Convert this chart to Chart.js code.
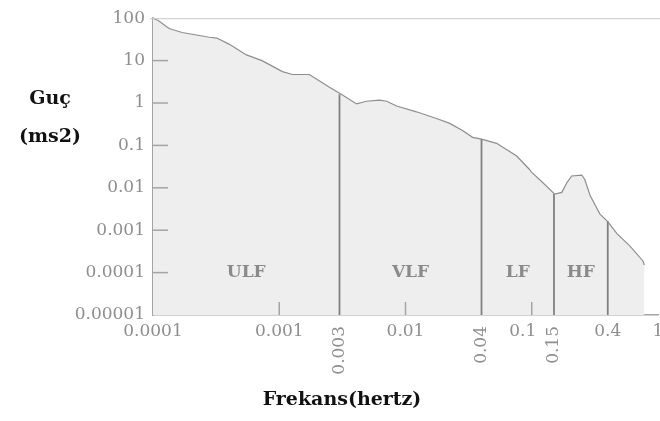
<!DOCTYPE html>
<html>
<head>
<meta charset="utf-8">
<script src="https://cdn.jsdelivr.net/npm/chart.js@4/dist/chart.umd.min.js"></script>
<style>
html,body{margin:0;padding:0;background:#fff;}
canvas{display:block;}
</style>
</head>
<body>
<canvas id="c" width="660" height="421"></canvas>
<script>
// ---- data ----
const freqHz = [0.0001, 0.00011, 0.000134, 0.00017, 0.00028, 0.00032, 0.0004, 0.00055, 0.00073, 0.00106, 0.00127, 0.00173, 0.0025, 0.0031, 0.0041, 0.0049, 0.0062, 0.0071, 0.0085, 0.0122, 0.0176, 0.0224, 0.0283, 0.034, 0.04, 0.0527, 0.076, 0.096, 0.1, 0.122, 0.152, 0.173, 0.19, 0.207, 0.249, 0.263, 0.29, 0.347, 0.4, 0.473, 0.6, 0.76, 0.78];
const powerMs2 = [100, 88, 57, 46, 35.5, 34, 24.5, 13.6, 10, 5.5, 4.7, 4.7, 2.35, 1.6, 0.95, 1.1, 1.17, 1.1, 0.85, 0.62, 0.43, 0.33, 0.225, 0.155, 0.14, 0.112, 0.056, 0.027, 0.023, 0.0133, 0.0071, 0.0078, 0.0133, 0.019, 0.020, 0.0157, 0.0066, 0.0024, 0.0016, 0.00083, 0.00042, 0.000188, 0.00015];

const bandEdges = [0.003, 0.04, 0.15, 0.4];
const bandEdgeTops = [1.6, 0.14, 0.0071, 0.0016];
const bandNames = ["ULF", "VLF", "LF", "HF"];
const bandBounds = [0.0001, 0.003, 0.04, 0.15, 0.4];
const bandLabelLevel = 0.0001;

const yTickValues = [100, 10, 1, 0.1, 0.01, 0.001, 0.0001, 0.00001];
const yTickLabels = ["100", "10", "1", "0.1", "0.01", "0.001", "0.0001", "0.00001"];

const xFlatTickValues = [0.0001, 0.001, 0.01, 0.1, 0.4, 1];
const xFlatTickLabels = ["0.0001", "0.001", "0.01", "0.1", "0.4", "1"];
const xRotTickValues = [0.003, 0.04, 0.15];
const xRotTickLabels = ["0.003", "0.04", "0.15"];
const xInnerTickValues = [0.001, 0.01, 0.1];

const yTitleLines = ["Guç", "(ms2)"];
const xTitle = "Frekans(hertz)";

const GRAY_TXT = '#8e8e8e';
const AXIS = '#a4a4a4';

const datasets = [{
  label: 'power',
  data: freqHz.map((f, i) => ({x: f, y: powerMs2[i]})),
  borderColor: '#8e8e8e',
  borderWidth: 1.2,
  backgroundColor: '#eeeeee',
  fill: 'start',
  pointRadius: 0,
  tension: 0,
  order: 2
}];
bandEdges.forEach((e, i) => {
  datasets.push({
    label: 'edge' + i,
    data: [{x: e, y: 0.00001}, {x: e, y: bandEdgeTops[i]}],
    borderColor: '#808080',
    borderWidth: 1.8,
    fill: false,
    pointRadius: 0,
    order: 1
  });
});

const decor = {
  id: 'decor',
  afterDatasetsDraw(chart) {
    const ctx = chart.ctx;
    const xs = chart.scales.x, ys = chart.scales.y;
    const a = chart.chartArea;
    ctx.save();
    // top border
    ctx.strokeStyle = '#c8c8c8';
    ctx.lineWidth = 1;
    ctx.beginPath();
    ctx.moveTo(a.left - 3, a.top + 0.5);
    ctx.lineTo(660, a.top + 0.5);
    ctx.stroke();
    // inward ticks on y
    ctx.strokeStyle = AXIS;
    ctx.lineWidth = 1.5;
    yTickValues.forEach(v => {
      if (v === 100 || v === 0.00001) return;
      const y = ys.getPixelForValue(v);
      ctx.beginPath();
      ctx.moveTo(a.left, y);
      ctx.lineTo(a.left + 15, y);
      ctx.stroke();
    });
    // inward ticks on x
    xInnerTickValues.forEach(v => {
      const x = xs.getPixelForValue(v);
      ctx.beginPath();
      ctx.moveTo(x, a.bottom);
      ctx.lineTo(x, a.bottom - 13);
      ctx.stroke();
    });
    // band labels
    ctx.fillStyle = '#8a8a8a';
    ctx.font = 'bold 17px "DejaVu Serif"';
    ctx.textAlign = 'center';
    ctx.textBaseline = 'middle';
    bandNames.forEach((n, i) => {
      const gm = Math.sqrt(bandBounds[i] * bandBounds[i + 1]);
      ctx.fillText(n, xs.getPixelForValue(gm), ys.getPixelForValue(bandLabelLevel));
    });
    // x tick labels
    ctx.fillStyle = GRAY_TXT;
    ctx.font = '17px "DejaVu Serif"';
    xFlatTickValues.forEach((v, i) => {
      let x = xs.getPixelForValue(v);
      if (v === 0.1) x -= 9;
      ctx.fillText(xFlatTickLabels[i], x, a.bottom + 17);
    });
    xRotTickValues.forEach((v, i) => {
      const x = xs.getPixelForValue(v);
      ctx.save();
      ctx.translate(x, a.bottom + 11);
      ctx.rotate(-Math.PI / 2);
      ctx.textAlign = 'right';
      ctx.textBaseline = 'middle';
      ctx.fillText(xRotTickLabels[i], 0, 0);
      ctx.restore();
    });
    // titles
    ctx.fillStyle = '#111';
    ctx.font = 'bold 19px "DejaVu Serif"';
    ctx.textAlign = 'center';
    ctx.fillText(yTitleLines[0], 50, 99);
    ctx.fillText(yTitleLines[1], 50, 137);
    ctx.fillText(xTitle, 342, 400);
    ctx.restore();
  }
};

new Chart(document.getElementById('c'), {
  type: 'line',
  data: {datasets},
  options: {
    responsive: false,
    devicePixelRatio: 1,
    animation: false,
    layout: {padding: {top: 13, right: 2, left: 0, bottom: 0}},
    plugins: {legend: {display: false}, tooltip: {enabled: false}},
    scales: {
      x: {
        type: 'logarithmic',
        min: 0.0001, max: 1,
        grid: {display: false, drawTicks: false},
        border: {display: true, color: AXIS, width: 1.5},
        ticks: {display: false},
        afterFit(s) { s.height = 106; }
      },
      y: {
        type: 'logarithmic',
        min: 0.00001, max: 100,
        grid: {display: false, drawTicks: false},
        border: {display: true, color: AXIS, width: 1.5},
        afterBuildTicks(s) { s.ticks = yTickValues.map(v => ({value: v})); },
        ticks: {
          color: GRAY_TXT,
          font: {family: 'DejaVu Serif', size: 17},
          padding: 8,
          autoSkip: false,
          callback(v) { const i = yTickValues.indexOf(v); return i >= 0 ? yTickLabels[i] : ''; }
        },
        afterFit(s) { s.width = 153; }
      }
    }
  },
  plugins: [decor]
});
</script>
</body>
</html>
